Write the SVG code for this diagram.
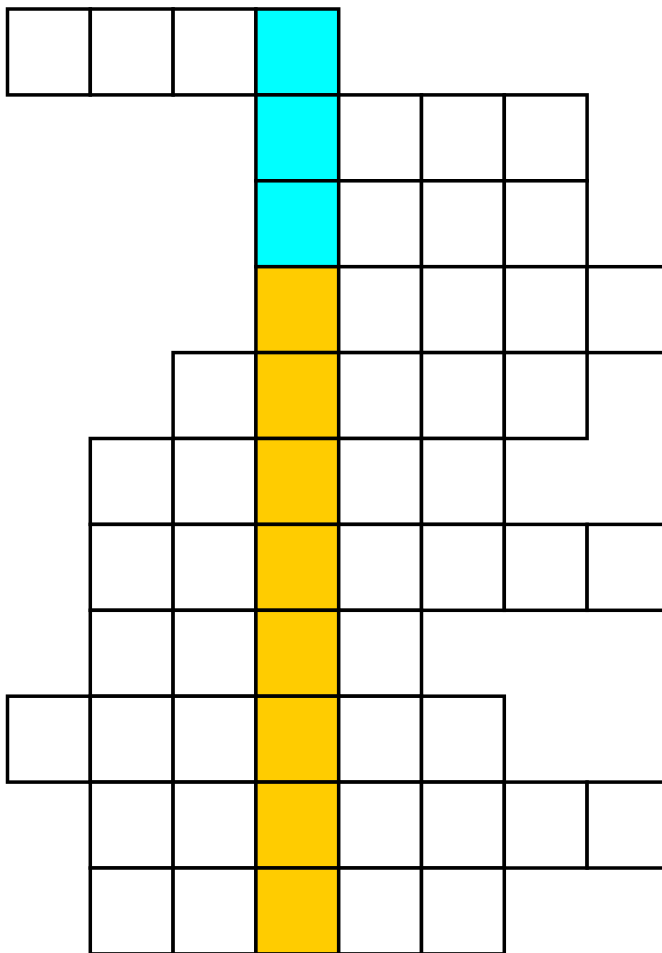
<svg xmlns="http://www.w3.org/2000/svg" width="662" height="953" viewBox="0 0 662 953">
<style>
rect{stroke:#000;stroke-width:3.5;width:82.8px;height:85.9px}
.w{fill:#fff}.c{fill:#00ffff}.y{fill:#ffcc00}
</style>
<rect x="0" y="0" width="662" height="953" style="fill:#fff;stroke:none;width:662px;height:953px"/>
<g id="r0">
<g id="r0c0"><rect class="w" x="7.5" y="9"/></g>
<g id="r0c1"><rect class="w" x="90.3" y="9"/></g>
<g id="r0c2"><rect class="w" x="173.1" y="9"/></g>
<g id="r0c3"><rect class="c" x="255.9" y="9"/></g>
</g>
<g id="r1">
<g id="r1c3"><rect class="c" x="255.9" y="94.9"/></g>
<g id="r1c4"><rect class="w" x="338.7" y="94.9"/></g>
<g id="r1c5"><rect class="w" x="421.5" y="94.9"/></g>
<g id="r1c6"><rect class="w" x="504.3" y="94.9"/></g>
</g>
<g id="r2">
<g id="r2c3"><rect class="c" x="255.9" y="180.8"/></g>
<g id="r2c4"><rect class="w" x="338.7" y="180.8"/></g>
<g id="r2c5"><rect class="w" x="421.5" y="180.8"/></g>
<g id="r2c6"><rect class="w" x="504.3" y="180.8"/></g>
</g>
<g id="r3">
<g id="r3c3"><rect class="y" x="255.9" y="266.7"/></g>
<g id="r3c4"><rect class="w" x="338.7" y="266.7"/></g>
<g id="r3c5"><rect class="w" x="421.5" y="266.7"/></g>
<g id="r3c6"><rect class="w" x="504.3" y="266.7"/></g>
<g id="r3c7"><rect class="w" x="587.1" y="266.7"/></g>
</g>
<g id="r4">
<g id="r4c2"><rect class="w" x="173.1" y="352.6"/></g>
<g id="r4c3"><rect class="y" x="255.9" y="352.6"/></g>
<g id="r4c4"><rect class="w" x="338.7" y="352.6"/></g>
<g id="r4c5"><rect class="w" x="421.5" y="352.6"/></g>
<g id="r4c6"><rect class="w" x="504.3" y="352.6"/></g>
</g>
<g id="r5">
<g id="r5c1"><rect class="w" x="90.3" y="438.5"/></g>
<g id="r5c2"><rect class="w" x="173.1" y="438.5"/></g>
<g id="r5c3"><rect class="y" x="255.9" y="438.5"/></g>
<g id="r5c4"><rect class="w" x="338.7" y="438.5"/></g>
<g id="r5c5"><rect class="w" x="421.5" y="438.5"/></g>
</g>
<g id="r6">
<g id="r6c1"><rect class="w" x="90.3" y="524.4"/></g>
<g id="r6c2"><rect class="w" x="173.1" y="524.4"/></g>
<g id="r6c3"><rect class="y" x="255.9" y="524.4"/></g>
<g id="r6c4"><rect class="w" x="338.7" y="524.4"/></g>
<g id="r6c5"><rect class="w" x="421.5" y="524.4"/></g>
<g id="r6c6"><rect class="w" x="504.3" y="524.4"/></g>
<g id="r6c7"><rect class="w" x="587.1" y="524.4"/></g>
</g>
<g id="r7">
<g id="r7c1"><rect class="w" x="90.3" y="610.3"/></g>
<g id="r7c2"><rect class="w" x="173.1" y="610.3"/></g>
<g id="r7c3"><rect class="y" x="255.9" y="610.3"/></g>
<g id="r7c4"><rect class="w" x="338.7" y="610.3"/></g>
</g>
<g id="r8">
<g id="r8c0"><rect class="w" x="7.5" y="696.2"/></g>
<g id="r8c1"><rect class="w" x="90.3" y="696.2"/></g>
<g id="r8c2"><rect class="w" x="173.1" y="696.2"/></g>
<g id="r8c3"><rect class="y" x="255.9" y="696.2"/></g>
<g id="r8c4"><rect class="w" x="338.7" y="696.2"/></g>
<g id="r8c5"><rect class="w" x="421.5" y="696.2"/></g>
</g>
<g id="r9">
<g id="r9c1"><rect class="w" x="90.3" y="782.1"/></g>
<g id="r9c2"><rect class="w" x="173.1" y="782.1"/></g>
<g id="r9c3"><rect class="y" x="255.9" y="782.1"/></g>
<g id="r9c4"><rect class="w" x="338.7" y="782.1"/></g>
<g id="r9c5"><rect class="w" x="421.5" y="782.1"/></g>
<g id="r9c6"><rect class="w" x="504.3" y="782.1"/></g>
<g id="r9c7"><rect class="w" x="587.1" y="782.1"/></g>
</g>
<g id="r10">
<g id="r10c1"><rect class="w" x="90.3" y="868"/></g>
<g id="r10c2"><rect class="w" x="173.1" y="868"/></g>
<g id="r10c3"><rect class="y" x="255.9" y="868"/></g>
<g id="r10c4"><rect class="w" x="338.7" y="868"/></g>
<g id="r10c5"><rect class="w" x="421.5" y="868"/></g>
</g>
</svg>
